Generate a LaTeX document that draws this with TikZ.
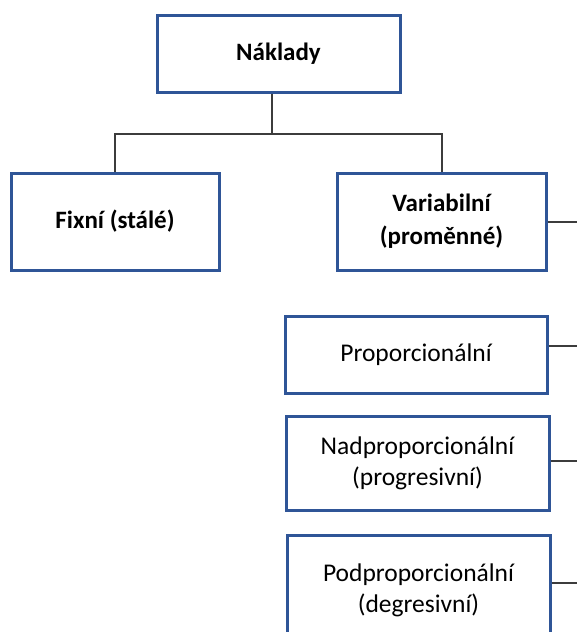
\documentclass[tikz,border=0pt]{standalone}
\usepackage{fontspec}
\setmainfont{Carlito}
\definecolor{boxblue}{RGB}{47,85,151}
\definecolor{linegray}{RGB}{60,60,60}
\tikzset{
  box/.style={draw=boxblue, line width=3pt, fill=white, align=center, inner sep=0pt,
    font=\fontsize{25.5}{31}\selectfont},
  bbox/.style={box, font=\fontsize{25}{33}\selectfont\bfseries},
  conn/.style={linegray, line width=2pt}
}
\begin{document}
\begin{tikzpicture}[x=1pt,y=-1pt]
		\useasboundingbox (0,0) rectangle (577,632);
		% top level
		\node[bbox, minimum width=243pt, minimum height=77pt] (naklady) at (278.5,53.5) {Náklady};
		\node[bbox, minimum width=208pt, minimum height=97pt] (fixni) at (115,221.5) {Fixní (stálé)};
		\node[bbox, minimum width=209pt, minimum height=97pt] (varia) at (441.5,221.5) {Variabilní\\(proměnné)};
		% kinds of variable costs
		\node[box, minimum width=262pt, minimum height=77pt] (prop) at (416,354.5) {Proporcionální};
		\node[box, minimum width=263pt, minimum height=94pt] (nadprop) at (417.5,463) {Nadproporcionální\\(progresivní)};
		\node[box, minimum width=263pt, minimum height=110pt] (podprop) at (418.5,590) {Podproporcionální\\(degresivní)};
		\coordinate (split) at (272,134);
		\coordinate (e1) at (577,222);
		\coordinate (e2) at (577,346);
		\coordinate (e3) at (577,461);
		\coordinate (e4) at (577,583);
		\draw[conn] (split |- naklady.south) -- (split);
		\draw[conn] (split) -| (fixni.north);
		\draw[conn] (split) -| (varia.north);
		\draw[conn] (e1 -| varia.east) -- (e1);
		\draw[conn] (e2 -| prop.east) -- (e2);
		\draw[conn] (e3 -| nadprop.east) -- (e3);
		\draw[conn] (e4 -| podprop.east) -- (e4);
		\end{tikzpicture}
\end{document}
